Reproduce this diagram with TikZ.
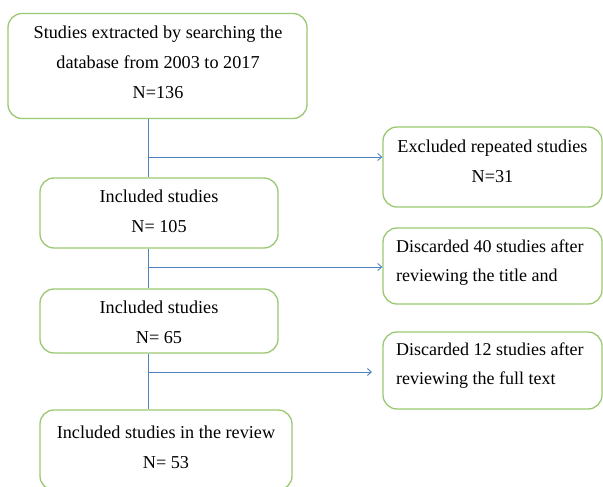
\documentclass[tikz,border=0pt]{standalone}
\usepackage{fontspec}
\setmainfont{Liberation Serif}
\usetikzlibrary{arrows.meta,calc}
\definecolor{boxgreen}{RGB}{155,200,115}
\definecolor{lineblue}{RGB}{79,129,189}
\tikzset{
  box/.style={draw=boxgreen, line width=1.3pt, rounded corners=14pt, fill=white, inner sep=0pt},
  txt/.style={font=\fontsize{18.2}{30}\selectfont, text=black, inner sep=0pt, align=center},
  txtl/.style={font=\fontsize{18}{29}\selectfont, text=black, inner sep=0pt, align=left},
  conn/.style={draw=lineblue, line width=1pt},
  arr/.style={conn, -{Straight Barb[length=4pt,width=7pt,line width=0.9pt]}},
}
\begin{document}
\begin{tikzpicture}[x=1pt,y=-1pt]
\useasboundingbox (0,0) rectangle (603,487);
\clip (0,0) rectangle (603,487);
% left column boxes
\node[box, minimum width=299pt, minimum height=105pt] (b1) at (157.5,66) {};
\node[box, minimum width=238pt, minimum height=70pt] (b2) at (159,213) {};
\node[box, minimum width=238pt, minimum height=64pt] (b3) at (159,321) {};
\node[box, minimum width=252pt, minimum height=80pt] (b4) at (166,450) {};
% right column boxes
\node[box, minimum width=219pt, minimum height=80pt] (r1) at (492.5,167) {};
\node[box, minimum width=219pt, minimum height=76pt] (r2) at (492.5,266) {};
\node[box, minimum width=219pt, minimum height=77pt] (r3) at (492.5,370.5) {};
% texts
\node[txt] (t1) at (158,62.5) {Studies extracted by searching the\\database from 2003 to 2017\\N=136};
\node[txt] (t2) at (159,211.5) {Included studies\\N= 105};
\node[txt] (t3) at (159,322) {Included studies\\N= 65};
\node[txt] (t4) at (166,447) {Included studies in the review\\N= 53};
\node[txt] (u1) at (492.5,161) {Excluded repeated studies\\N=31};
\node[txtl, anchor=west] (u2) at (396,262.5) {Discarded 40 studies after\\reviewing the title and};
\node[txtl, anchor=west] (u3) at (396,366) {Discarded 12 studies after\\reviewing the full text};
% connectors
\coordinate (spine) at (148,0);
\coordinate (j1) at (148,157);
\coordinate (j2) at (148,267);
\coordinate (j3) at (148,372);
\coordinate (e3) at (372,372);
\draw[conn] (b1.south -| spine) -- (b2.north -| spine);
\draw[conn] (b2.south -| spine) -- (b3.north -| spine);
\draw[conn] (b3.south -| spine) -- (b4.north -| spine);
\draw[arr] (j1) -- (j1 -| r1.west);
\draw[arr] (j2) -- (j2 -| r2.west);
\draw[arr] (j3) -- (e3);
\end{tikzpicture}
\end{document}
